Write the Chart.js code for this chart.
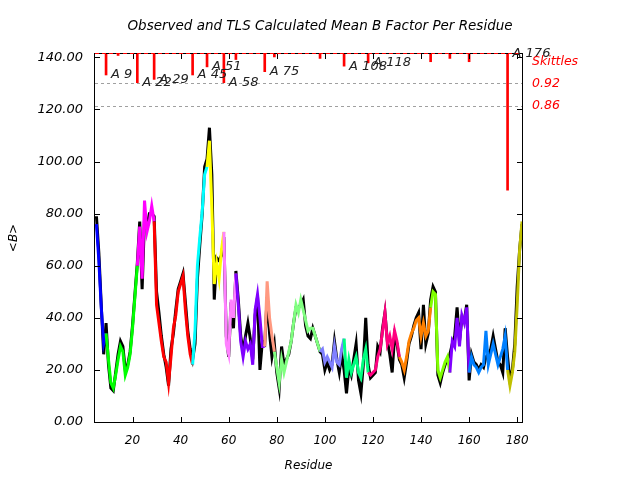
<!DOCTYPE html>
<html><head><meta charset="utf-8">
<script src="https://cdn.jsdelivr.net/npm/chart.js@4"></script>
<style>html,body{margin:0;padding:0;background:#fff}#c{display:block}</style>
</head><body>
<canvas id="c" width="640" height="480"></canvas>
<script>
const residues = [5,6,7,8,9,10,11,12,13,14,15,16,17,18,19,20,21,22,23,24,25,26,27,28,29,30,31,32,33,34,35,36,37,38,39,40,41,42,43,44,45,46,47,48,49,50,51,52,53,54,55,56,57,58,59,60,61,62,63,64,65,66,67,68,69,70,71,72,73,74,75,76,77,78,79,80,81,82,83,84,85,86,87,88,89,90,91,92,93,94,95,96,97,98,99,100,101,102,103,104,105,106,107,108,109,110,111,112,113,114,115,116,117,118,119,120,121,122,123,124,125,126,127,128,129,130,131,132,133,134,135,136,137,138,139,140,141,142,143,144,145,146,147,148,149,150,151,152,153,154,155,156,157,158,159,160,161,162,163,164,165,166,167,168,169,170,171,172,173,174,175,176,177,178,179,180,181,182];
const observedB = [79,65,45,26,38,22,13,12,19,26,
31,29,20,22,27,37,49,61,77,51,
78,75,80,80,79,50,42,33,26,21,
14,28,34,43,51,54,57,46,35,28,
24,30,55,68,80,98,101,113,95,47,
63,62,64,71,33,25,46,36,58,47,
33,27,33,38,32,24,41,48,20,31,
30,48,34,25,30,19,13,29,22,24,
26,31,38,44,44,45,47,37,33,32,
36,33,30,27,26,20,23,20,22,31,
24,19,26,20,11,21,18,24,30,16,
11,22,40,22,17,18,19,29,27,36,
42,31,26,19,33,30,24,22,17,23,
30,33,37,40,42,28,45,30,34,47,
52,50,18,15,19,22,24,26,30,33,
44,31,40,39,45,16,26,23,22,20,
22,21,25,26,28,33,28,23,22,19,
36,25,16,20,30,52,66,76];
const tlsB = [76,62,44,30,34,24,15,13,18,24,
29,27,18,21,26,36,48,60,75,55,
85,73,77,83,77,45,38,31,25,23,
15,25,36,41,50,53,56,43,33,26,
22,35,60,71,81,95,98,108,82,53,
61,55,66,73,30,26,47,40,57,45,
31,25,31,28,30,22,43,49,40,29,
29,54,40,33,27,21,15,24,19,23,
27,31,38,45,42,47,43,39,35,36,
36,33,30,27,28,23,25,23,21,29,
23,22,28,32,17,24,19,22,25,19,
17,24,28,19,18,19,20,25,28,35,
42,30,33,28,35,31,25,23,20,25,
31,34,36,39,40,33,38,33,35,44,
50,49,20,17,20,23,25,19,31,29,
40,29,41,38,44,19,25,22,21,19,
21,22,35,22,26,30,26,22,25,28,
33,20,14,19,27,45,66,77];
const segmentStarts = [5,9,22,29,45,51,58,63,75,79,98,108,118,131,144,152,160,176];
const segmentColors = ['#0000ff','#00ff00','#ff00ff','#ff0000','#00ffff','#ffff00','#ff80ff','#8000ff','#ff9980','#80ff80','#8080ff','#00ff80','#ff0080','#ff8000','#80ff00','#8000ff','#0080ff','#c0c000'];
const skittleResidues = [9,14,22,29,45,51,58,63,75,79,98,108,118,144,152,160,176];
const skittleValues = [0.943,0.996,0.922,0.931,0.943,0.965,0.922,0.985,0.952,0.992,0.988,0.967,0.976,0.979,0.988,0.979,0.630];
const skittleLabels = ['A 9','','A 22','A 29','A 45','A 51','A 58','','A 75','','','A 108','A 118','','','','A 176'];
const skittleLevels = [0.92, 0.86];
const yTicks = [0,20,40,60,80,100,120,140];
const xTicks = [20,40,60,80,100,120,140,160,180];

const FAM = '"DejaVu Sans", sans-serif';
const xTickFont = {family: FAM, size: 12, style: 'italic', weight: 'normal'};
const yTickFont = {family: FAM, size: 13, style: 'italic', weight: 'normal'};
const textFont = {family: FAM, size: 12, style: 'italic', weight: 'normal'};
const titleFont = {family: FAM, size: 13.5, style: 'italic', weight: 'normal'};

function colorFor(r){
  let c = segmentColors[0];
  for (let i=0;i<segmentStarts.length;i++){ if (r >= segmentStarts[i]) c = segmentColors[i]; }
  return c;
}

const decor = {
  id: 'decor',
  beforeDatasetsDraw(chart){
    const {ctx, chartArea:a, scales:{y2}} = chart;
    ctx.save();
    ctx.strokeStyle = '#a0a0a0'; ctx.lineWidth = 1; ctx.setLineDash([3,3]);
    skittleLevels.forEach(v => {
      const py = Math.round(y2.getPixelForValue(v)) + 0.5;
      ctx.beginPath(); ctx.moveTo(a.left, py); ctx.lineTo(a.right, py); ctx.stroke();
    });
    ctx.restore();
  },
  afterDatasetsDraw(chart){
    const {ctx, chartArea:a, scales:{x, y, y2}} = chart;
    ctx.save();
    ctx.strokeStyle = '#000'; ctx.lineWidth = 1; ctx.setLineDash([]);
    ctx.strokeRect(a.left - 0.5, a.top - 0.5, a.right - a.left + 1, a.bottom - a.top + 1);
    const TL = 5;
    ctx.beginPath();
    yTicks.forEach(v => {
      const py = Math.round(y.getPixelForValue(v)) + 0.5;
      ctx.moveTo(a.left, py); ctx.lineTo(a.left + TL, py);
      ctx.moveTo(a.right, py); ctx.lineTo(a.right - TL, py);
    });
    xTicks.forEach(v => {
      const px = Math.round(x.getPixelForValue(v)) + 0.5;
      ctx.moveTo(px, a.bottom); ctx.lineTo(px, a.bottom - TL);
      ctx.moveTo(px, a.top); ctx.lineTo(px, a.top + TL);
    });
    ctx.stroke();
    ctx.strokeStyle = '#ff0000'; ctx.setLineDash([4,3]);
    const top1 = Math.round(y2.getPixelForValue(1)) - 0.5;
    ctx.beginPath(); ctx.moveTo(a.left, top1); ctx.lineTo(a.right, top1); ctx.stroke();
    ctx.setLineDash([]);
    ctx.font = 'italic 13px ' + FAM;
    ctx.fillStyle = '#222'; ctx.textBaseline = 'middle'; ctx.textAlign = 'left';
    skittleResidues.forEach((r, i) => {
      if (!skittleLabels[i]) return;
      const v = skittleValues[i] < 0.9 ? 1 : skittleValues[i];
      ctx.fillText(skittleLabels[i], x.getPixelForValue(r) + 5, y2.getPixelForValue(v));
    });
    ctx.font = 'italic 12.5px ' + FAM;
    ctx.fillStyle = '#ff0000';
    ctx.fillText('Skittles', a.right + 10, a.top + 8);
    skittleLevels.forEach(v => {
      ctx.fillText(v.toFixed(2), a.right + 10, y2.getPixelForValue(v));
    });
    ctx.restore();
  }
};

new Chart(document.getElementById('c'), {
  type: 'line',
  data: {
    datasets: [
      {
        label: 'TLS calculated',
        data: residues.map((r, i) => ({x: r, y: tlsB[i]})),
        borderWidth: 3, pointRadius: 0, tension: 0, fill: false,
        borderColor: '#000',
        segment: { borderColor: ctx => colorFor(residues[ctx.p0DataIndex]) },
        yAxisID: 'y'
      },
      {
        label: 'Observed',
        data: residues.map((r, i) => ({x: r, y: observedB[i]})),
        borderWidth: 3, pointRadius: 0, tension: 0, fill: false,
        borderColor: '#000', yAxisID: 'y'
      },
      {
        type: 'bar',
        label: 'Skittles',
        data: skittleResidues.map((r, i) => ({x: r, y: [1, skittleValues[i]]})),
        backgroundColor: '#ff0000', borderWidth: 0,
        barThickness: 2, grouped: false,
        yAxisID: 'y2'
      }
    ]
  },
  options: {
    responsive: false, animation: false, devicePixelRatio: 1,
    layout: {padding: 0},
    plugins: {
      legend: {display: false},
      tooltip: {enabled: false},
      title: {
        display: true,
        text: 'Observed and TLS Calculated Mean B Factor Per Residue',
        font: titleFont, color: '#000',
        padding: {top: 17.9, bottom: 19.9}
      }
    },
    scales: {
      x: {
        type: 'linear', min: 4.4, max: 182, offset: false,
        afterBuildTicks: s => { s.ticks = xTicks.map(v => ({value: v})); },
        ticks: {font: xTickFont, color: '#000', padding: 12, maxRotation: 0, autoSkip: false, callback: v => String(v)},
        grid: {display: false, drawTicks: false},
        border: {display: false},
        title: {display: true, text: 'Residue', font: textFont, color: '#000', padding: {top: 0, bottom: 6.8}},
        afterFit: s => { s.height = 58; }
      },
      y: {
        type: 'linear', position: 'left', min: 0, max: 141.3,
        afterBuildTicks: s => { s.ticks = yTicks.map(v => ({value: v})); },
        ticks: {font: yTickFont, color: '#000', padding: 12, autoSkip: false, callback: v => Number(v).toFixed(2)},
        grid: {display: false, drawTicks: false},
        border: {display: false},
        title: {display: true, text: '<B>', font: textFont, color: '#000', padding: {top: 6.8, bottom: 0}},
        afterFit: s => { s.width = 95; }
      },
      y2: {
        type: 'linear', position: 'right', min: 0, max: 1,
        ticks: {display: false},
        grid: {display: false, drawTicks: false},
        border: {display: false},
        afterFit: s => { s.width = 118; }
      }
    }
  },
  plugins: [decor]
});
</script>
</body></html>
